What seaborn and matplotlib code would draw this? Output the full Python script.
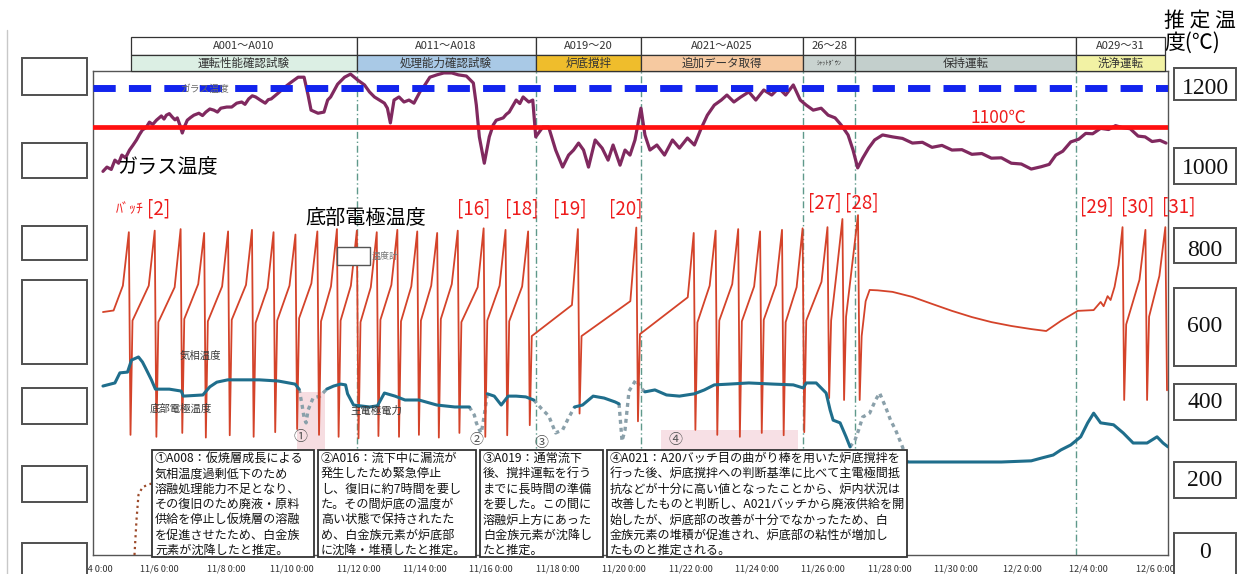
"""
Recreation of the melter operation chart: glass temperature, bottom electrode
temperature (batch sawtooth) and main electrode power over 11/4 - 12/6.
"""
import matplotlib
matplotlib.use("Agg")
import matplotlib.pyplot as plt
import matplotlib.transforms as mtransforms
from matplotlib.patches import Rectangle
from matplotlib.lines import Line2D
from matplotlib.ticker import FuncFormatter
import seaborn as sns
import pandas as pd
import numpy as np

W, H = 1241, 574
BASE = pd.Timestamp("2023-11-04 00:00")

# ---------------- data (days since 11/4 0:00, degC) ----------------
glass_day = [0.30, 0.42, 0.55, 0.66, 0.77, 0.87, 0.98, 1.10, 1.20, 1.31, 1.40, 1.49, 1.60, 1.70,
             1.80, 1.91, 2.06, 2.14, 2.21, 2.30, 2.39, 2.47, 2.54, 2.62, 2.69, 2.76, 2.84, 2.94,
             3.04, 3.19, 3.30, 3.40, 3.52, 3.64, 3.75, 3.85, 4.03, 4.18, 4.33, 4.48, 4.58, 4.69,
             4.80, 4.90, 5.04, 5.19, 5.28, 5.37, 5.58, 5.79, 5.97, 6.18, 6.36, 6.48, 6.57, 6.78,
             6.96, 7.07, 7.16, 7.37, 7.58, 7.76, 7.97, 8.18, 8.33, 8.48, 8.63, 8.78, 8.87, 8.96,
             9.07, 9.22, 9.37, 9.52, 9.67, 9.85, 10.00, 10.15, 10.36, 10.57, 10.81, 11.01, 11.25,
             11.46, 11.55, 11.64, 11.79, 11.94, 12.06, 12.15, 12.36, 12.45, 12.54, 12.75, 12.86,
             12.96, 13.13, 13.25, 13.34, 13.55, 13.73, 13.94, 14.15, 14.33, 14.48, 14.63, 14.78,
             14.93, 15.13, 15.34, 15.52, 15.67, 15.88, 16.03, 16.18, 16.33, 16.51, 16.63, 16.78,
             16.99, 17.22, 17.46, 17.67, 17.91, 18.12, 18.33, 18.51, 18.72, 18.93, 19.10, 19.31,
             19.52, 19.76, 19.97, 20.21, 20.45, 20.66, 20.87, 21.10, 21.31, 21.49, 21.70, 21.94,
             22.15, 22.36, 22.54, 22.75, 22.90, 23.04, 23.19, 23.37, 23.55, 23.79, 24.09, 24.39,
             24.69, 24.99, 25.28, 25.58, 25.88, 26.18, 26.48, 26.78, 27.07, 27.37, 27.67, 27.97,
             28.27, 28.57, 28.81, 29.01, 29.22, 29.46, 29.70, 29.91, 30.12, 30.36, 30.60, 30.81,
             31.01, 31.25, 31.49, 31.70, 31.91, 32.15, 32.33]
glass_temp = [985, 996, 990, 1014, 1006, 1027, 1020, 1040, 1052, 1066, 1080, 1092, 1098, 1112,
              1106, 1117, 1128, 1120, 1130, 1134, 1125, 1118, 1123, 1104, 1084, 1101, 1117, 1124,
              1130, 1135, 1129, 1138, 1146, 1143, 1138, 1148, 1151, 1151, 1161, 1164, 1158, 1172,
              1180, 1177, 1169, 1161, 1170, 1172, 1187, 1203, 1215, 1228, 1228, 1182, 1143, 1135,
              1138, 1169, 1177, 1210, 1228, 1236, 1221, 1208, 1190, 1177, 1169, 1161, 1148, 1110,
              1169, 1177, 1164, 1169, 1161, 1190, 1208, 1228, 1234, 1239, 1239, 1234, 1231,
              1213, 1156, 1074, 1006, 1074, 1105, 1117, 1123, 1132, 1138, 1169, 1160,
              1177, 1164, 1169, 1074, 1099, 1099, 1040, 996, 1027, 1040, 1058, 1040,
              996, 1066, 1045, 1014, 1053, 1001, 1040, 1027, 1066, 1148, 1079, 1040,
              1053, 1027, 1066, 1045, 1071, 1053, 1097, 1130, 1156, 1169, 1182, 1164,
              1177, 1190, 1169, 1195, 1182, 1200, 1182, 1208, 1169, 1156, 1143, 1148,
              1130, 1123, 1105, 1079, 1040, 994, 1019, 1045, 1066, 1079, 1074, 1070,
              1058, 1060, 1047, 1052, 1040, 1041, 1029, 1031, 1019, 1020, 1006, 1004,
              991, 997, 1003, 1027, 1037, 1061, 1068, 1083, 1082, 1096, 1093, 1103,
              1098, 1095, 1076, 1074, 1062, 1065, 1058]

# bottom electrode temperature: one rise and drop per batch
elec_start_day = [0.30, 0.62, 0.90]
elec_start_temp = [622, 626, 690]
drop_day = [1.10, 1.88, 2.66, 3.37, 4.09, 4.81, 5.46, 6.12, 6.78, 7.37, 7.97, 8.57, 9.19, 9.79,
            10.39, 11.01, 11.79, 12.45, 13.13, 14.63, 16.39, 18.12, 18.78, 19.46, 20.12, 20.78,
            21.40, 22.15, 22.60, 23.07, 31.04, 31.73, 32.33]
peak_temp = [828, 832, 836, 826, 830, 834, 828, 822, 830, 836, 832, 828, 834, 830, 826, 832,
             838, 834, 830, 836, 840, 826, 832, 836, 830, 834, 838, 841, 862, 872, 841, 834, 841]
trough_temp = [305, 300, 310, 298, 304, 300, 312, 320, 305, 300, 296, 302, 300, 305, 298, 310,
               300, 304, 330, 360, 340, 318, 305, 300, 310, 304, 312, 400, 395, 395, 395, 395, 420]
restart_temp = [600, 596, 604, 598, 602, 594, 600, 606, 598, 600, 596, 602, 598, 600, 604, 596,
                600, 598, 560, 560, 565, 595, 600, 598, 602, 596, 600, 600, 610, np.nan, 590, 610]
mid_temp = [690, 686, 694, 688, 692, 684, 690, 696, 688, 690, 686, 692, 688, 690, 694, 686,
            690, 688, 640, 650, 660, 690, 694, 688, 692, 686, 700, 720, 740, np.nan, 705, 715]
HOLD_AFTER = 29  # holding operation between batch 28 and batch 29
hold_day = [23.16, 23.28, 23.40, 23.64, 24.09, 24.69, 25.28, 25.88, 26.48, 27.07, 27.67, 28.27,
            28.72, 29.16, 29.67, 30.15, 30.36, 30.45, 30.57, 30.66, 30.78, 30.90]
hold_temp = [560, 650, 679, 678, 674, 661, 643, 625, 609, 596, 586, 578,
             573, 599, 625, 627, 648, 637, 663, 653, 687, 743]

# main electrode power trace (plotted on the temperature scale like the original)
power_day = [0.30, 0.66, 0.81, 1.04, 1.16, 1.37, 1.49, 1.58, 1.76, 1.88, 2.30, 2.66, 2.72, 3.31,
             3.52, 3.73, 4.06, 5.01, 5.58, 6.09, 6.21, 6.30, 6.36, 6.42, 6.48, 6.63, 6.84, 7.04,
             7.25, 7.46, 7.61, 7.67, 7.85, 8.33, 8.57, 8.78, 9.10, 9.40, 9.82, 10.36, 10.90, 11.34,
             11.49, 11.55, 11.64, 11.70, 11.79, 11.88, 12.09, 12.30, 12.51, 12.75, 13.04, 13.28,
             13.52, 13.73, 13.94, 14.15, 14.33, 14.51, 14.75, 15.07, 15.40, 15.73, 15.85, 15.94,
             16.03, 16.15, 16.36, 16.51, 16.63, 16.93, 17.28, 17.67, 18.12, 18.42, 18.72, 19.16,
             19.76, 20.51, 21.10, 21.40, 21.49, 21.79, 22.09, 22.21, 22.30, 22.51, 22.69, 22.81,
             22.96, 23.07, 23.19, 23.40, 23.58, 23.70, 23.88, 24.03, 24.18, 24.39, 24.54, 25.88,
             27.37, 28.27, 28.57, 28.93, 29.16, 29.46, 29.76, 29.97, 30.15, 30.36, 30.75, 31.04,
             31.34, 31.76, 32.06, 32.24, 32.39]
power_temp = [431, 439, 465, 467, 498, 506, 493, 478, 447, 423, 423, 418, 405, 408,
              429, 441, 447, 447, 444, 436, 423, 382, 349, 336, 369, 400, 405, 423,
              431, 436, 434, 411, 382, 377, 380, 413, 405, 395, 395, 382, 377, 377,
              356, 336, 318, 310, 356, 411, 405, 382, 405, 405, 403, 395,
              372, 354, 310, 318, 349, 377, 382, 405, 400, 390, 385, 289,
              318, 418, 447, 426, 416, 421, 408, 405, 411, 421, 434, 436,
              439, 436, 434, 426, 439, 439, 413, 369, 343, 336, 300, 274,
              292, 318, 351, 361, 395, 413, 377, 343, 318, 274, 235, 235,
              235, 238, 245, 253, 266, 279, 300, 336, 361, 336, 331, 310,
              284, 284, 300, 284, 274]
power_gaps = [(6.21, 7.04), (11.34, 11.88), (13.28, 14.51), (15.85, 16.63), (22.81, 24.54)]

aux_day = [1.25, 1.31, 1.37, 1.49, 1.70, 2.00]
aux_temp = [-5, 85, 150, 170, 178, 183]

# batch boundaries / header table
phase_edges = [1.16, 7.94, 13.34, 16.51, 21.40, 22.96, 29.61, 32.30]
phase_batches = ["A001～A010", "A011～A018", "A019～20", "A021～A025", "26～28", "", "A029～31"]
phase_names = ["運転性能確認試験", "処理能力確認試験", "炉底撹拌", "追加データ取得", "ｼｬｯﾄﾀﾞｳﾝ",
               "保持運転", "洗浄運転"]
phase_colors = ["#dcefe4", "#a9c9e6", "#efbd2c", "#f6c9a0", "#c9d3d0", "#c3cfcc", "#f2f2a4"]
divider_day = [7.94, 13.34, 16.51, 21.40, 22.96, 29.61]

GLASS_LIMIT = 1200
GLASS_TARGET = 1100
right_labels = ["1200", "1000", "800", "600", "400", "200", "0"]

notes = [
    "①A008：仮焼層成長による\n気相温度過剰低下のため\n溶融処理能力不足となり、\nその復旧のため廃液・原料\n"
    "供給を停止し仮焼層の溶融\nを促進させたため、白金族\n元素が沈降したと推定。",
    "②A016：流下中に漏流が\n発生したため緊急停止\nし、復旧に約7時間を要し\nた。その間炉底の温度が\n"
    "高い状態で保持されたた\nめ、白金族元素が炉底部\nに沈降・堆積したと推定。",
    "③A019：通常流下\n後、撹拌運転を行う\nまでに長時間の準備\nを要した。この間に\n"
    "溶融炉上方にあった\n白金族元素が沈降し\nたと推定。",
    "④A021：A20バッチ目の曲がり棒を用いた炉底撹拌を\n行った後、炉底撹拌への判断基準に比べて主電極間抵\n"
    "抗などが十分に高い値となったことから、炉内状況は\n改善したものと判断し、A021バッチから廃液供給を開\n"
    "始したが、炉底部の改善が十分でなかったため、白\n金族元素の堆積が促進され、炉底部の粘性が増加し\n"
    "たものと推定される。",
]

# ---------------- build the sawtooth from the batch values ----------------
elec_day = list(elec_start_day)
elec_temp = list(elec_start_temp)
for i, d in enumerate(drop_day):
    elec_day += [d - 0.02, d + 0.03]
    elec_temp += [peak_temp[i], trough_temp[i]]
    if i == HOLD_AFTER:
        elec_day += hold_day
        elec_temp += hold_temp
    elif i + 1 < len(drop_day):
        elec_day += [d + 0.09, drop_day[i + 1] - 0.2]
        elec_temp += [restart_temp[i], mid_temp[i]]

pw = pd.DataFrame({"day": power_day, "temp": power_temp})
edges = [power_day[0]] + [v for g in power_gaps for v in g] + [power_day[-1]]
solid = pd.concat([pw[(pw.day >= edges[k]) & (pw.day <= edges[k + 1])].assign(seg=k)
                   for k in range(0, len(edges), 2)])
gray = pd.concat([pw[(pw.day >= lo) & (pw.day <= hi)].assign(seg=k)
                  for k, (lo, hi) in enumerate(power_gaps)])

# ---------------- figure ----------------
sns.set_style("white")
plt.rcParams["font.family"] = ["Noto Sans CJK JP", "DejaVu Sans"]

fig = plt.figure(figsize=(W / 100, H / 100), dpi=100)
ax = fig.add_axes([93 / W, (H - 555) / H, (1168 - 93) / W, (555 - 71) / H])


def fx(x):
    return x / W


def fy(y):
    return 1 - y / H


def fig_box(x0, y0, x1, y1, lw=1.3, ec="#454545", fc="white", z=5):
    fig.add_artist(Rectangle((fx(x0), fy(y1)), (x1 - x0) / W, (y1 - y0) / H,
                             transform=fig.transFigure, fc=fc, ec=ec, lw=lw, zorder=z))


# pink marks of the events
ax.add_patch(Rectangle((6.15, 266), 0.85, 150, fc="#f6dde1", ec="none", zorder=0))
ax.add_patch(Rectangle((17.1, 266), 4.15, 52, fc="#f7e0e5", ec="none", zorder=0))

for d in divider_day:
    ax.axvline(d, color="#5f998b", lw=1.0, ls=(0, (5, 2, 1, 2)), zorder=1)

sns.lineplot(x=glass_day, y=glass_temp, ax=ax, color="#80295f", lw=2.3,
             sort=False, estimator=None, zorder=3)
sns.lineplot(x=elec_day, y=elec_temp, ax=ax, color="#d4432a", lw=1.3,
             sort=False, estimator=None, zorder=3)
sns.lineplot(data=gray, x="day", y="temp", units="seg", estimator=None, sort=False, ax=ax,
             color="#8aa0aa", lw=2.4, linestyle=(0, (1.2, 1.2)), zorder=2)
sns.lineplot(data=solid, x="day", y="temp", units="seg", estimator=None, sort=False, ax=ax,
             color="#1f6e8c", lw=2.2, zorder=3)
sns.lineplot(x=aux_day, y=aux_temp, ax=ax, color="#9c4a2a", lw=1.6, linestyle=":",
             sort=False, estimator=None, zorder=3)

ax.axhline(GLASS_LIMIT, color="#1224ee", lw=5, ls=(0, (3.2, 1.9)), zorder=4)
ax.axhline(GLASS_TARGET, color="#ff1010", lw=3.4, zorder=4)

ax.set_xlim(0.30, 32.39)
ax.set_ylim(-5, 1244)
ax.set_xlabel("")
ax.set_ylabel("")
ax.set_xticks(np.arange(0, 33, 2))
ax.xaxis.set_major_formatter(FuncFormatter(
    lambda v, p: f"{(BASE + pd.Timedelta(days=v)).month}/{(BASE + pd.Timedelta(days=v)).day} 0:00"))
ax.tick_params(axis="x", direction="in", length=3, pad=7, labelsize=6.6, colors="#333333")
ax.set_yticks([])
for s in ax.spines.values():
    s.set_color("#555555")
    s.set_linewidth(1.0)

# header table above the plot
blend = mtransforms.blended_transform_factory(ax.transData, ax.transAxes)
for i in range(len(phase_names)):
    x0, x1 = phase_edges[i], phase_edges[i + 1]
    ax.add_patch(Rectangle((x0, 1.033), x1 - x0, 0.037, transform=blend, fc="white",
                           ec="#333333", lw=0.9, clip_on=False, zorder=6))
    ax.add_patch(Rectangle((x0, 1.0), x1 - x0, 0.033, transform=blend, fc=phase_colors[i],
                           ec="#333333", lw=0.9, clip_on=False, zorder=6))
    xm = (x0 + x1) / 2
    ax.text(xm, 1.0515, phase_batches[i], transform=blend, ha="center", va="center",
            fontsize=8, color="#333333", zorder=7)
    ax.text(xm, 1.0165, phase_names[i], transform=blend, ha="center", va="center",
            fontsize=4.5 if i == 4 else 8.3, color="#333333", zorder=7)

# faint printed labels inside the scanned chart
ax_small = dict(fontsize=7.5, color="#3a3a3a", va="center", ha="left", zorder=5)
fig.text(fx(180), fy(89), "ガラス温度", fontsize=7, color="#6a6a6a", va="center")
fig.text(fx(180), fy(356), "気相温度", **ax_small)
fig.text(fx(150), fy(409), "底部電極温度", **ax_small)
fig.text(fx(350), fy(411), "主電極電力", **ax_small)
fig_box(337, 247, 370, 265, lw=1.0, ec="#555555", z=5)
fig.text(fx(372), fy(256), "温度計", fontsize=6.5, color="#777777", va="center")
for lab, (x, y) in zip(["①", "②", "③", "④"], [(300, 437), (476, 440), (541, 443), (675, 440)]):
    fig.text(fx(x), fy(y), lab, fontsize=10, color="#555555", ha="center", va="center")

# overlay labels
fig.text(fx(117), fy(167), "ガラス温度", fontsize=14.5, color="black", va="center")
fig.text(fx(305), fy(218), "底部電極温度", fontsize=14.5, color="black", va="center")
fig.text(fx(116), fy(209), "ﾊﾞｯﾁ", fontsize=10, color="#ee1c1c", va="center")
fig.text(fx(147), fy(209), "[2]", fontsize=13.5, color="#ee1c1c", va="center")
for lab, x, y in [("[16]", 457, 209), ("[18]", 505, 209), ("[19]", 553, 209), ("[20]", 609, 209),
                  ("[27]", 808, 203), ("[28]", 845, 203), ("[29]", 1080, 207),
                  ("[30]", 1121, 207), ("[31]", 1162, 207)]:
    fig.text(fx(x), fy(y), lab, fontsize=13.5, color="#ee1c1c", va="center")
fig.text(fx(970), fy(118), "1100℃", fontsize=12.5, color="#ee1c1c", va="center")
fig.text(fx(1164), fy(21), "推 定 温", fontsize=15, color="black", va="center")
fig.text(fx(1164), fy(43), "度(℃)", fontsize=15, color="black", va="center")

# note boxes
for text, (x0, x1) in zip(notes, [(152, 314), (318, 476), (480, 603), (607, 907)]):
    fig_box(x0, 450, x1, 557, lw=1.3, ec="#333333", z=6)
    fig.text(fx(x0 + 3), fy(452), text, fontsize=8.7, color="#111111", va="top", ha="left",
             linespacing=1.23, zorder=7)

# empty boxes on the left, labelled boxes on the right
for y0, y1 in [(58, 95), (143, 178), (226, 260), (280, 364), (388, 424), (466, 502), (543, 580)]:
    fig_box(22, y0, 87, y1, lw=1.4, ec="#505050")
for lab, (y0, y1), yt in zip(right_labels,
                              [(68, 100), (148, 184), (228, 263), (288, 366), (384, 420),
                               (462, 498), (533, 580)],
                              [88, 168, 250, 326, 402, 480, 553]):
    fig_box(1174, y0, 1236, y1, lw=1.4, ec="#505050")
    fig.text(fx(1205), fy(yt), lab, fontsize=17, family=["Liberation Serif"], color="#111111",
             ha="center", va="center", zorder=7)

fig.add_artist(Line2D([fx(7), fx(7)], [fy(30), fy(574)], transform=fig.transFigure,
                      color="#c8c8c8", lw=1))

fig.savefig("out.png", dpi=100)
